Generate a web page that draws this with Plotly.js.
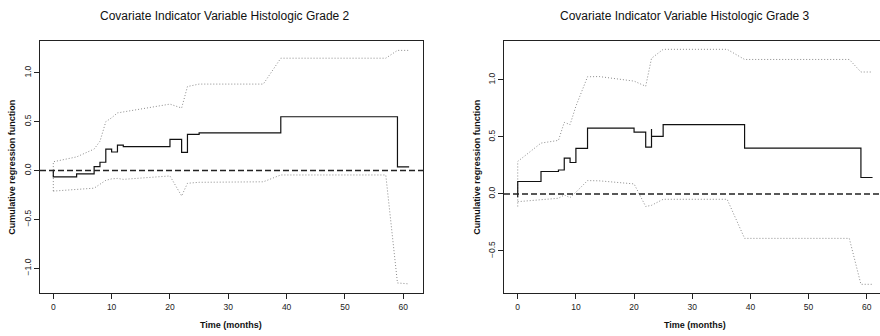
<!DOCTYPE html>
<html>
<head>
<meta charset="utf-8">
<script src="https://cdn.plot.ly/plotly-3.0.1.min.js"></script>
<style>html,body{margin:0;padding:0;background:#fff;}#chart{width:880px;height:336px;}</style>
</head>
<body>
<div id="chart"></div>
<script>
// ---- Grade 2 (left panel) ----
const time2  = [0, 0, 4, 7, 8, 9, 10, 11, 12, 20, 22, 23, 25, 39, 59, 61];
const est2   = [0, -0.065, -0.034, 0.041, 0.085, 0.22, 0.19, 0.26, 0.245, 0.32, 0.187, 0.371, 0.385, 0.551, 0.037, 0.037];
const ciTime2 = [0, 0, 4, 7, 8, 9, 10, 11, 12, 20, 22, 23, 25, 36, 39, 57, 59, 61];
const upper2 = [-0.21, 0.09, 0.14, 0.22, 0.30, 0.50, 0.54, 0.59, 0.60, 0.68, 0.64, 0.86, 0.885, 0.885, 1.15, 1.15, 1.23, 1.23];
const lower2 = [-0.21, -0.21, -0.19, -0.18, -0.14, -0.10, -0.085, -0.08, -0.09, -0.055, -0.26, -0.13, -0.12, -0.115, -0.045, -0.045, -1.15, -1.16];

// ---- Grade 3 (right panel) ----
const time3  = [0, 0, 4, 7, 8, 9, 10, 12, 20, 22, 23, 23, 25, 39, 59, 61];
const est3   = [-0.03, 0.109, 0.197, 0.21, 0.314, 0.276, 0.40, 0.578, 0.543, 0.41, 0.57, 0.505, 0.608, 0.402, 0.144, 0.144];
const ciTime3 = [0, 0, 4, 7, 8, 9, 10, 12, 14, 17, 20, 22, 23, 25, 36, 39, 57, 59, 61];
const upper3 = [-0.11, 0.285, 0.446, 0.47, 0.628, 0.608, 0.77, 1.028, 1.03, 1.01, 0.99, 0.945, 1.19, 1.269, 1.269, 1.18, 1.18, 1.07, 1.07];
const lower3 = [-0.068, -0.068, -0.053, -0.038, -0.009, -0.032, 0.015, 0.117, 0.115, 0.10, 0.088, -0.11, -0.10, -0.047, -0.047, -0.39, -0.39, -0.793, -0.793];

const titles = ["Covariate Indicator Variable Histologic Grade 2", "Covariate Indicator Variable Histologic Grade 3"];
const xTitle = "Time (months)";
const yTitle = "Cumulative regression function";
const xTicks = [0, 10, 20, 30, 40, 50, 60];
const yTicks = [-1.0, -0.5, 0.0, 0.5, 1.0];

const FONT = "Liberation Sans, Arial, Helvetica, sans-serif";
const mainLine = {color: '#111', width: 1.2, shape: 'hv'};
const ciLine = {color: '#8a8a8a', width: 1, dash: '1px,2px'};

const traces = [
  {x: ciTime2, y: upper2, xaxis: 'x', yaxis: 'y', mode: 'lines', line: ciLine, hoverinfo: 'skip'},
  {x: ciTime2, y: lower2, xaxis: 'x', yaxis: 'y', mode: 'lines', line: ciLine, hoverinfo: 'skip'},
  {x: time2, y: est2, xaxis: 'x', yaxis: 'y', mode: 'lines', line: mainLine},
  {x: ciTime3, y: upper3, xaxis: 'x2', yaxis: 'y2', mode: 'lines', line: ciLine, hoverinfo: 'skip'},
  {x: ciTime3, y: lower3, xaxis: 'x2', yaxis: 'y2', mode: 'lines', line: ciLine, hoverinfo: 'skip'},
  {x: time3, y: est3, xaxis: 'x2', yaxis: 'y2', mode: 'lines', line: mainLine}
];

const yDom = [1 - 293.3/336, 1 - 41/336];
function xAxis(dom, rng, anchor) {
  return {domain: dom, range: rng, anchor: anchor, tickvals: xTicks, ticks: 'outside', ticklen: 5,
    tickwidth: 1, tickcolor: '#222', showline: true, linecolor: '#222', linewidth: 1, mirror: true,
    showgrid: false, zeroline: false, tickfont: {family: FONT, size: 8.5, color: '#222'}};
}
function yAxis(rng, anchor, mirror) {
  return {domain: yDom, range: rng, anchor: anchor, tickvals: yTicks, tickformat: '.1f', ticks: 'outside',
    ticklen: 5, tickwidth: 1, tickcolor: '#222', showline: true, linecolor: '#222', linewidth: 1, mirror: mirror,
    tickangle: -90, showgrid: false, zeroline: false, tickfont: {family: FONT, size: 8.5, color: '#222'}};
}

const layout = {
  width: 880, height: 336, margin: {l: 0, r: 0, t: 0, b: 0},
  paper_bgcolor: '#fff', plot_bgcolor: '#fff', showlegend: false,
  xaxis: xAxis([40/880, 423.3/880], [-2.28, 63.43], 'y'),
  yaxis: yAxis([-1.256, 1.326], 'x', true),
  xaxis2: xAxis([504/880, 1], [-2.36, 62.28], 'y2'),
  yaxis2: yAxis([-0.872, 1.342], 'x2', false),
  shapes: [
    {type: 'line', xref: 'x domain', yref: 'y', x0: 0, x1: 1, y0: 0, y1: 0, line: {color: '#222', width: 1.5, dash: '6px,3px'}},
    {type: 'line', xref: 'x2 domain', yref: 'y2', x0: 0, x1: 1, y0: 0, y1: 0, line: {color: '#222', width: 1.5, dash: '6px,3px'}}
  ],
  annotations: [
    {text: titles[0], xref: 'paper', yref: 'paper', x: 225/880, y: 1 - 16/336, showarrow: false, xanchor: 'center', yanchor: 'middle', font: {family: FONT, size: 12, color: '#111'}},
    {text: titles[1], xref: 'paper', yref: 'paper', x: 685/880, y: 1 - 16/336, showarrow: false, xanchor: 'center', yanchor: 'middle', font: {family: FONT, size: 12, color: '#111'}},
    {text: '<b>' + xTitle + '</b>', xref: 'paper', yref: 'paper', x: 231/880, y: 1 - 325/336, showarrow: false, xanchor: 'center', yanchor: 'middle', font: {family: FONT, size: 9, color: '#111'}},
    {text: '<b>' + xTitle + '</b>', xref: 'paper', yref: 'paper', x: 695/880, y: 1 - 325/336, showarrow: false, xanchor: 'center', yanchor: 'middle', font: {family: FONT, size: 9, color: '#111'}},
    {text: '<b>' + yTitle + '</b>', xref: 'paper', yref: 'paper', x: 11.7/880, y: 1 - 167/336, showarrow: false, textangle: -90, xanchor: 'center', yanchor: 'middle', font: {family: FONT, size: 9, color: '#111'}},
    {text: '<b>' + yTitle + '</b>', xref: 'paper', yref: 'paper', x: 476.7/880, y: 1 - 167/336, showarrow: false, textangle: -90, xanchor: 'center', yanchor: 'middle', font: {family: FONT, size: 9, color: '#111'}}
  ]
};

Plotly.newPlot('chart', traces, layout, {staticPlot: true, displayModeBar: false});
</script>
</body>
</html>
